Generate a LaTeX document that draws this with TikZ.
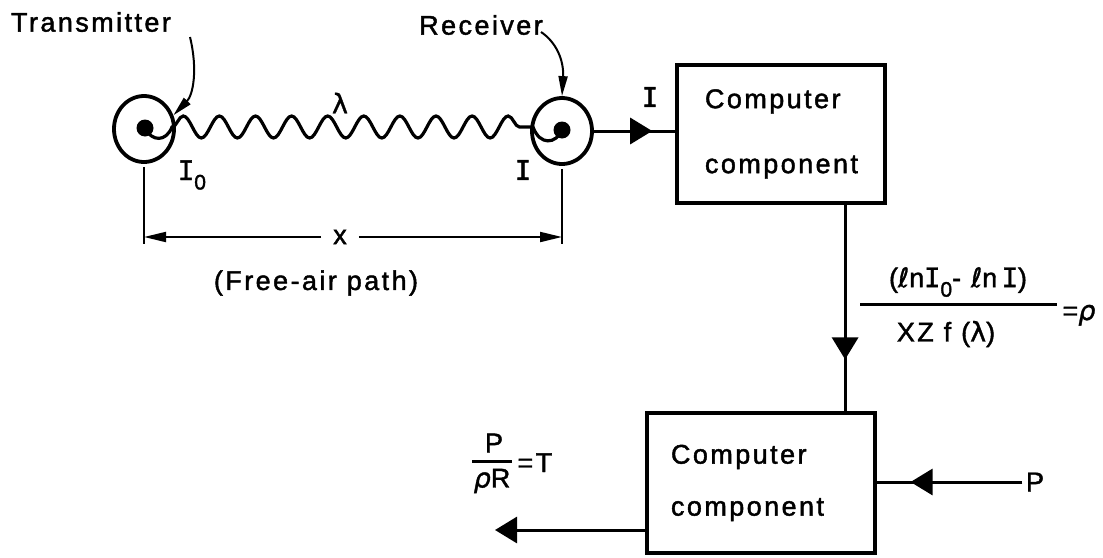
\documentclass[tikz,border=0pt]{standalone}
\usepackage{fontspec}
\setmainfont[LetterSpace=9, FakeBold=1.6]{Liberation Sans}
\newfontfamily\barfont[FakeBold=1.6]{DejaVu Sans Mono}
\newfontfamily\symfont[FakeBold=1.2]{DejaVu Sans}
\usetikzlibrary{shapes.geometric, arrows.meta, decorations.pathmorphing, decorations.markings, positioning, calc}

\newcommand{\Ib}{{\barfont I}}
\newcommand{\Isub}[1]{\raisebox{-0.35em}{\fontsize{21}{22}\selectfont #1}}

\begin{document}
\begin{tikzpicture}[x=1pt, y=-1pt, font=\fontsize{27}{32}\selectfont,
    comp/.style={draw, rectangle, line width=4.2pt, align=left, inner xsep=0pt},
    sensor/.style={draw, ellipse, line width=3.8pt, minimum width=60pt, minimum height=66pt, inner sep=0pt},
    blob/.style={fill, circle, minimum size=17pt, inner sep=0pt},
    link/.style={line width=3pt},
    thin link/.style={line width=2pt},
    bighead/.style={-{Triangle[length=22pt, width=26pt]}},
    midarrow/.style={postaction={decorate}, decoration={markings,
        mark=at position #1 with {\arrow{Triangle[length=22pt, width=26pt]}}}},
    fracbar/.style={fill, inner sep=0pt, minimum height=3pt}]
    \useasboundingbox (0,0) rectangle (1103,557);

    % transmitter and receiver
    \node[sensor] (tx) at (144,129) {};
    \node[sensor] (rx) at (562,131) {};
    \node[blob] (tdot) at (145,128) {};
    \node[blob] (rdot) at (562,130) {};
    \draw[link, line width=3.2pt] (tdot.center) .. controls (152,142) and (166,142) .. (172,127)
        decorate[decoration={snake, segment length=36.1pt, amplitude=11pt}] {-- (533,127)}
        .. controls (540,146) and (556,144) .. (rdot.center);
    \node (lam) at (340,103) {{\symfont λ}};

    \node (tlabel) at (91,22) {Transmitter};
    \node (rlabel) at (481,25) {Receiver};
    \coordinate (tstart) at (190,37);
    \coordinate (rstart) at (541,32);
    \draw[thin link, -{Triangle[length=20pt, width=9pt]}] (tstart) .. controls (198,70) and (193,95) .. (tx.25);
    \draw[thin link, -{Triangle[length=20pt, width=9pt]}] (rstart) .. controls (556,42) and (564,60) .. (rx.north);

    \node (itx) at (192,175) {\Ib\Isub{0}};
    \node (irx) at (523,170) {\Ib};

    % free-air path
    \coordinate (extL) at (144,244);
    \coordinate (extR) at (562,244);
    \coordinate (dimL) at (144,237);
    \coordinate (dimR) at (562,237);
    \draw[thin link, shorten <=3pt] (tx.south) -- (extL);
    \draw[thin link, shorten <=3pt] (rx.south) -- (extR);
    \node[inner xsep=12pt] (xlab) at (340,237) {x};
    \draw[thin link, -{Triangle[length=22pt, width=10pt]}] (xlab) -- (dimL);
    \draw[thin link, -{Triangle[length=22pt, width=10pt]}] (xlab) -- (dimR);
    \node (path) at (316,283) {(Free-air path)};

    % computer components
    \node[comp, minimum width=208pt, minimum height=138pt, text width=152pt] (comp1) at (781,134)
        {Computer\\[33pt]component};
    \node[comp, minimum width=228pt, minimum height=140pt, text width=180pt] (comp2) at (761,483)
        {Computer\\[20pt]component};
    \node (iout) at (650,97) {\Ib};
    \draw[link, midarrow=0.72] (rx.east) -- (rx.east -| comp1.west);
    \draw[link, midarrow=0.75] ($(comp1.south east)+(-42,0)$) coordinate (drop) -- (drop |- comp2.north);

    % rho
    \node (rnum) at (958,282) {({\symfont\itshape ℓ}n\Ib\Isub{0}- {\symfont\itshape ℓ}n\,\Ib)};
    \node[fracbar, minimum width=197pt] (rbar) at (958,304) {};
    \node (rden) at (946,334) {XZ f ({\symfont λ})};
    \node[anchor=base west] (rho) at (1059,320) {={\symfont\itshape ρ}};

    % pressure in, temperature out
    \node (pin) at (1035,482) {P};
    \draw[link, midarrow=0.77] (pin.west) -- (pin.west -| comp2.east);
    \coordinate (tout) at (495,530);
    \draw[link, bighead] (comp2.west |- tout) -- (tout);
    \node (tnum) at (494,443) {P};
    \node[fracbar, minimum width=40pt] (tbar) at (492,461) {};
    \node (tden) at (492,481) {{\symfont\itshape ρ}R};
    \node[anchor=base west] (teq) at (514,472) {=T};
\end{tikzpicture}
\end{document}
